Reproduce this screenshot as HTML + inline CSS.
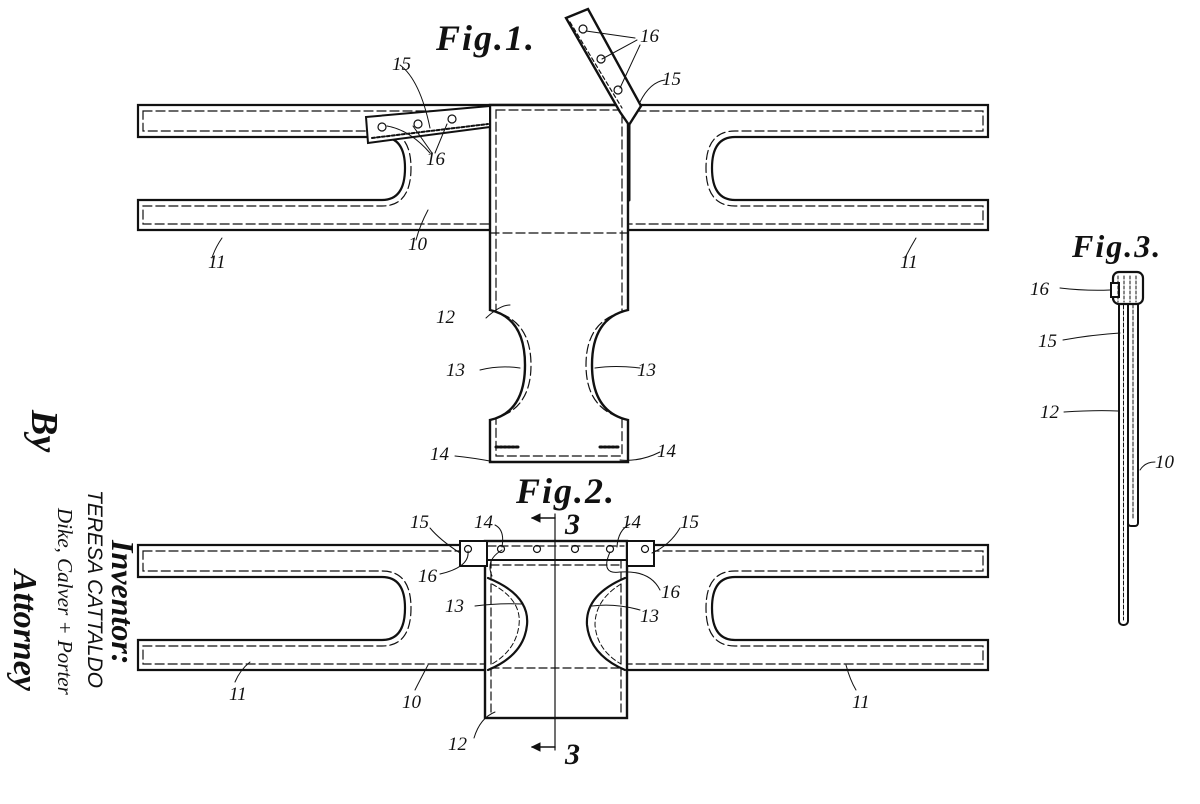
<!DOCTYPE html>
<html><head><meta charset="utf-8"><style>
html,body{margin:0;padding:0;background:#fff;}
svg{display:block;}
text{font-family:"Liberation Serif",serif;fill:#111;}
.n{font-style:italic;font-size:19px;}
.fig{font-weight:bold;font-style:italic;font-size:36px;letter-spacing:2px;}
</style></head><body>
<svg width="1200" height="804" viewBox="0 0 1200 804" xmlns="http://www.w3.org/2000/svg">
<g fill="none" stroke="#111" stroke-linecap="round">
<!-- FIG 1 strap -->
<path d="M138,105 H988 V137 H735 Q712,137 712,168 Q712,200 735,200 H988 V230 H138 V200 H382 Q405,200 405,168 Q405,137 382,137 H138 Z" fill="#fff" stroke-width="2.2"/>
<path d="M143,111 H983 V131 H735 Q706,131 706,168 Q706,206 735,206 H983 V224 H143 V206 H382 Q411,206 411,168 Q411,131 382,131 H143 Z" stroke-width="1.2" stroke-dasharray="9,4"/>
<!-- panel 12 -->
<path d="M490,105 H628 V310 Q592,318 592,365 Q592,412 628,420 V462 H490 V420 Q525,412 525,365 Q525,318 490,310 Z" fill="#fff" stroke-width="2.4"/>
<path d="M496,110 H622 V312 Q586,322 586,365 Q586,408 622,418 V456 H496 V418 Q531,408 531,365 Q531,322 496,312 Z" stroke-width="1.2" stroke-dasharray="9,4"/>
<line x1="490" y1="233" x2="628" y2="233" stroke-width="1.2" stroke-dasharray="9,4"/>
<line x1="496" y1="447" x2="520" y2="447" stroke-width="3" stroke-dasharray="2,2"/>
<line x1="600" y1="447" x2="620" y2="447" stroke-width="3" stroke-dasharray="2,2"/>
<!-- left tab 15 -->
<polygon points="366,117 490,106 490,127 368,143" fill="#fff" stroke-width="2"/>
<line x1="372" y1="138" x2="488" y2="124" stroke-width="2" stroke-dasharray="3,2"/>
<circle cx="382" cy="127" r="4" stroke-width="1.2"/><circle cx="418" cy="124" r="4" stroke-width="1.2"/><circle cx="452" cy="119" r="4" stroke-width="1.2"/>
<!-- top tab 15 -->
<polygon points="566,18 588,9 641,106 629,125 620,112" fill="#fff" stroke-width="2.4"/>
<path d="M570,22 L622,108" stroke-width="1.2" stroke-dasharray="4,3"/>
<circle cx="583" cy="29" r="4" stroke-width="1.2"/><circle cx="601" cy="59" r="4" stroke-width="1.2"/><circle cx="618" cy="90" r="4" stroke-width="1.2"/>
<line x1="629" y1="125" x2="629" y2="200" stroke-width="3"/>
<!-- leaders fig1 -->
<path d="M400,65 Q420,80 430,128" stroke-width="1"/>
<path d="M387,126 Q410,130 430,153 M413,126 L432,153 M447,124 L435,153" stroke-width="1"/>
<path d="M586,31 L635,38 M602,59 L637,40 M620,88 L640,45" stroke-width="1"/>
<path d="M640,102 Q650,82 665,80" stroke-width="1"/>
<path d="M222,238 Q215,248 212,258 M428,210 Q420,225 416,240 M916,238 Q910,248 905,258" stroke-width="1"/>
<path d="M486,318 Q500,305 510,305 M480,370 Q500,365 520,368 M595,368 Q615,365 640,368" stroke-width="1"/>
<path d="M455,456 Q475,458 495,462 M620,460 Q640,462 660,452" stroke-width="1"/>
<!-- FIG 2 strap -->
<path d="M138,545 H988 V577 H735 Q712,577 712,608 Q712,640 735,640 H988 V670 H138 V640 H382 Q405,640 405,608 Q405,577 382,577 H138 Z" fill="#fff" stroke-width="2.2"/>
<path d="M143,551 H983 V571 H735 Q706,571 706,608 Q706,646 735,646 H983 V664 H143 V646 H382 Q411,646 411,608 Q411,571 382,571 H143 Z" stroke-width="1.2" stroke-dasharray="9,4"/>
<rect x="485" y="541" width="142" height="177" fill="#fff" stroke-width="2.4"/>
<line x1="491" y1="560" x2="491" y2="714" stroke-width="1.2" stroke-dasharray="8,4"/>
<line x1="621" y1="560" x2="621" y2="714" stroke-width="1.2" stroke-dasharray="8,4"/>
<line x1="485" y1="560" x2="627" y2="560" stroke-width="2"/>
<line x1="488" y1="546" x2="624" y2="546" stroke-width="1.2" stroke-dasharray="8,4"/>
<line x1="491" y1="565" x2="621" y2="565" stroke-width="1.2" stroke-dasharray="8,4"/>
<line x1="491" y1="668" x2="621" y2="668" stroke-width="1.2" stroke-dasharray="8,4"/>
<rect x="460" y="541" width="27" height="25" fill="#fff" stroke-width="2"/>
<rect x="627" y="541" width="27" height="25" fill="#fff" stroke-width="2"/>
<circle cx="468" cy="549" r="3.5" stroke-width="1.2"/><circle cx="501" cy="549" r="3.5" stroke-width="1.2"/><circle cx="537" cy="549" r="3.5" stroke-width="1.2"/><circle cx="575" cy="549" r="3.5" stroke-width="1.2"/><circle cx="610" cy="549" r="3.5" stroke-width="1.2"/><circle cx="645" cy="549" r="3.5" stroke-width="1.2"/>
<path d="M488,578 Q530,595 527,625 Q524,655 488,670" stroke-width="2.2"/>
<path d="M492,584 Q522,600 519,625 Q516,650 492,664" stroke-width="1" stroke-dasharray="5,3"/>
<path d="M625,578 Q585,595 587,625 Q590,655 625,670" stroke-width="2.2"/>
<path d="M621,584 Q595,600 595,625 Q597,650 621,664" stroke-width="1" stroke-dasharray="5,3"/>
<line x1="555" y1="514" x2="555" y2="750" stroke-width="1.2"/>
<path d="M555,518 H532 M555,747 H532" stroke-width="1.5"/>
<path d="M532,518 l8,-4 v8 Z M532,747 l8,-4 v8 Z" fill="#111" stroke-width="1"/>
<!-- leaders fig2 -->
<path d="M430,528 Q440,540 460,553 M495,525 Q505,530 502,547 M630,524 Q618,530 617,547 M680,528 Q670,545 652,553" stroke-width="1"/>
<path d="M440,574 Q470,567 468,551 M502,550 Q485,560 492,576 M610,552 Q600,575 620,572 Q650,570 660,590" stroke-width="1"/>
<path d="M475,606 Q500,603 522,604 M592,606 Q615,603 640,610" stroke-width="1"/>
<path d="M235,682 Q240,670 250,662 M415,690 Q420,680 428,665 M856,690 Q850,680 846,665 M474,738 Q480,718 495,712" stroke-width="1"/>
<!-- FIG 3 -->
<rect x="1119" y="300" width="9" height="325" rx="4" fill="#fff" stroke-width="2"/>
<line x1="1123.5" y1="305" x2="1123.5" y2="620" stroke-width="1" stroke-dasharray="4,2"/>
<rect x="1128" y="276" width="10" height="250" rx="3" fill="#fff" stroke-width="2"/>
<line x1="1133" y1="280" x2="1133" y2="520" stroke-width="1" stroke-dasharray="4,2"/>
<rect x="1113" y="272" width="30" height="32" rx="6" fill="#fff" stroke-width="2.2"/>
<rect x="1111" y="283" width="8" height="14" fill="#fff" stroke-width="2"/>
<path d="M1118,276 v26 M1124,276 v26 M1130,276 v26 M1136,276 v26" stroke-width="1" stroke-dasharray="3,2"/>
<path d="M1060,288 Q1085,291 1110,290 M1063,340 Q1090,335 1120,333 M1064,412 Q1095,410 1118,411 M1140,470 Q1145,462 1155,462" stroke-width="1"/>
</g>
<!-- labels -->
<text class="fig" x="436" y="50">Fig.1.</text>
<text class="fig" x="516" y="503">Fig.2.</text>
<text class="fig" x="1072" y="257" style="font-size:32px">Fig.3.</text>
<text class="fig" x="565" y="534" style="font-size:30px">3</text>
<text class="fig" x="565" y="764" style="font-size:30px">3</text>
<g class="n">
<text class="n" x="392" y="70">15</text>
<text class="n" x="426" y="165">16</text>
<text class="n" x="640" y="42">16</text>
<text class="n" x="662" y="85">15</text>
<text class="n" x="208" y="268">11</text>
<text class="n" x="408" y="250">10</text>
<text class="n" x="900" y="268">11</text>
<text class="n" x="436" y="323">12</text>
<text class="n" x="446" y="376">13</text>
<text class="n" x="637" y="376">13</text>
<text class="n" x="430" y="460">14</text>
<text class="n" x="657" y="457">14</text>
<text class="n" x="410" y="528">15</text>
<text class="n" x="474" y="528">14</text>
<text class="n" x="622" y="528">14</text>
<text class="n" x="680" y="528">15</text>
<text class="n" x="418" y="582">16</text>
<text class="n" x="661" y="598">16</text>
<text class="n" x="445" y="612">13</text>
<text class="n" x="640" y="622">13</text>
<text class="n" x="229" y="700">11</text>
<text class="n" x="402" y="708">10</text>
<text class="n" x="852" y="708">11</text>
<text class="n" x="448" y="750">12</text>
<text class="n" x="1030" y="295">16</text>
<text class="n" x="1038" y="347">15</text>
<text class="n" x="1040" y="418">12</text>
<text class="n" x="1155" y="468">10</text>
</g>
<text transform="translate(32,410) rotate(90)" style="font-weight:bold;font-style:italic;font-size:38px">By</text>
<text transform="translate(112,540) rotate(90)" style="font-weight:bold;font-style:italic;font-size:32px">Inventor:</text>
<text transform="translate(88,490) rotate(90)" style="font-style:italic;font-size:21px;font-family:'Liberation Sans',sans-serif">TERESA CATTALDO</text>
<text transform="translate(58,508) rotate(90)" style="font-style:italic;font-size:21px">Dike, Calver + Porter</text>
<text transform="translate(14,570) rotate(90)" style="font-weight:bold;font-style:italic;font-size:34px">Attorney</text>
</svg>
</body></html>
